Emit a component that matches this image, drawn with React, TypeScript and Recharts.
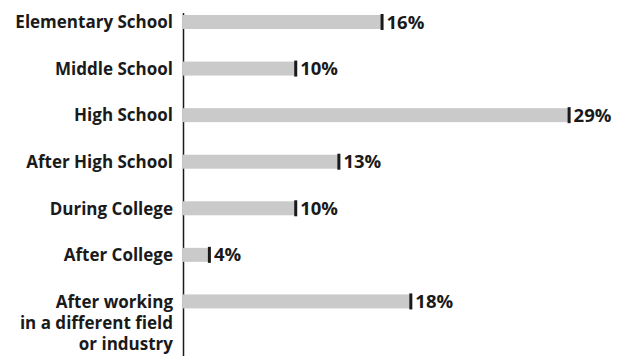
import { BarChart, Bar, XAxis, YAxis, LabelList, Customized } from "recharts";

const CATEGORIES = [
  "Elementary School",
  "Middle School",
  "High School",
  "After High School",
  "During College",
  "After College",
  "After working\nin a different field\nor industry",
];
const SHARES = [16, 10, 29, 13, 10, 4, 18];

const FONT = "'Open Sans', 'DejaVu Sans', sans-serif";
const INK = "#1a1a1a";
const GREY = "#cacaca";

const rows = CATEGORIES.map((name, i) => ({ name, value: SHARES[i] }));

// grey bar with a short black stroke at its end
function EndMarkBar(props: any) {
  const { x, y, width, height } = props;
  return (
    <g>
      <rect x={x} y={y} width={width} height={height} fill={GREY} />
      <rect x={x + width - 1} y={y - 1} width={3} height={height + 2} fill={INK} />
    </g>
  );
}

function CategoryTick(props: any) {
  const { x, y, payload } = props;
  const lines = String(payload.value).split("\n");
  return (
    <text
      x={x}
      y={y}
      textAnchor="end"
      fill={INK}
      fontFamily={FONT}
      fontWeight={700}
      fontSize={17}
    >
      {lines.map((line, i) => (
        <tspan key={i} x={x} dy={i === 0 ? "0.355em" : 21}>
          {line}
        </tspan>
      ))}
    </text>
  );
}

function AxisRule() {
  return <line x1={183.5} y1={13} x2={183.5} y2={356} stroke={INK} strokeWidth={1.5} />;
}

export default function App() {
  return (
    <div style={{ position: "absolute", left: 0, top: 0, background: "#fff" }}>
      <BarChart
        width={624}
        height={356}
        data={rows}
        layout="vertical"
        margin={{ top: -1, right: 41, bottom: 31, left: 0 }}
        barCategoryGap={0}
      >
        <XAxis type="number" hide domain={[2.2, 30]} allowDataOverflow />
        <YAxis
          type="category"
          dataKey="name"
          width={183}
          axisLine={false}
          tickLine={false}
          tickSize={6}
          tickMargin={4}
          interval={0}
          tick={<CategoryTick />}
        />
        <Bar dataKey="value" barSize={14} shape={<EndMarkBar />} isAnimationActive={false}>
          <LabelList
            dataKey="value"
            position="right"
            offset={5}
            formatter={(v: any) => `${v}%`}
            fill={INK}
            fontFamily={FONT}
            fontWeight={700}
            fontSize={18.5}
          />
        </Bar>
        <Customized component={<AxisRule />} />
      </BarChart>
    </div>
  );
}
